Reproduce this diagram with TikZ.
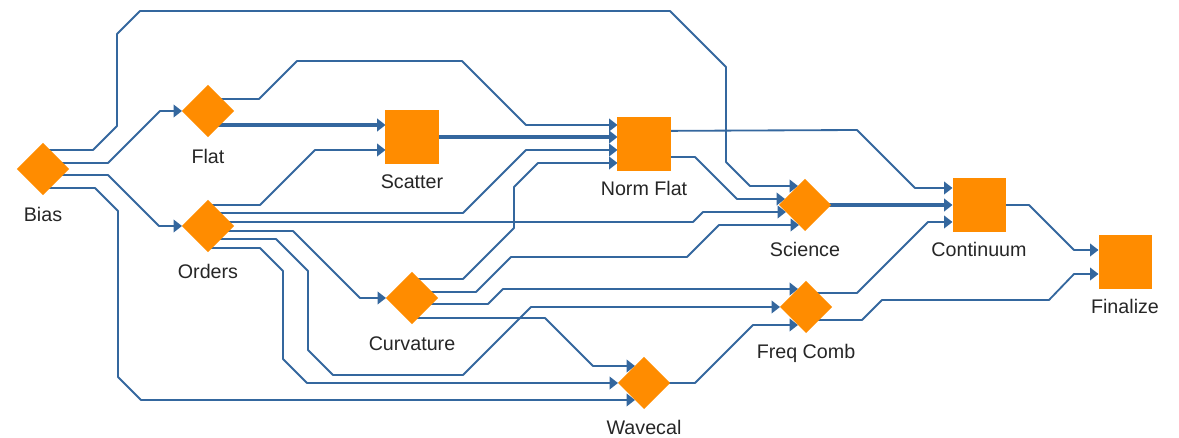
\documentclass[tikz,border=0pt]{standalone}
\usepackage{fontspec}
\setmainfont{Liberation Sans}
\usepackage{xcolor}
\definecolor{flowblue}{RGB}{52,103,158}
\definecolor{steporange}{RGB}{255,140,0}
\usetikzlibrary{shapes.geometric,arrows.meta,backgrounds,calc}
\tikzset{
  stage/.style={diamond, fill=steporange, minimum width=1.3cm, minimum height=1.3cm, aspect=1, inner sep=0pt, outer sep=0pt},
  task/.style={rectangle, fill=steporange, minimum size=1.325cm, inner sep=0pt, outer sep=0pt},
  lbl/.style={font=\fontsize{14pt}{16pt}\selectfont, text=black!85, anchor=base, inner sep=0pt},
  flow/.style={draw=flowblue, line width=1.3pt, line join=round, -{Triangle[length=6pt,width=9pt]}},
  mainflow/.style={flow, line width=2.2pt},
}
\begin{document}
\begin{tikzpicture}[x=0.025cm, y=-0.025cm]
        \useasboundingbox (0,0) rectangle (1179,438);                          % Bildrahmen
        \node[stage] (bias) at (43,169) {};                                     % Bias
        \node[stage] (flat) at (208,111) {};                                    % Flat
        \node[stage] (orders) at (208,226) {};                                  % Orders
        \node[task] (scatter) at (412,137) {};                                  % Scatter
        \node[stage] (curvature) at (412,298) {};                               % Curvature
        \node[task] (normflat) at (644,144) {};                                 % Norm Flat
        \node[stage] (wavecal) at (644,383) {};                                 % Wavecal
        \node[stage] (science) at (805,205) {};                                 % Science
        \node[stage] (freqcomb) at (806,307) {};                                % Freq Comb
        \node[task] (continuum) at (979,205) {};                                % Continuum
        \node[task] (finalize) at (1125,262) {};                                % Finalize
        \node[lbl] (bias-t) at ([shift={(0,53)}]bias.center) {Bias};            % Beschriftungen
        \node[lbl] (flat-t) at ([shift={(0,53)}]flat.center) {Flat};
        \node[lbl] (orders-t) at ([shift={(0,53)}]orders.center) {Orders};
        \node[lbl] (scatter-t) at ([shift={(0,52)}]scatter.center) {Scatter};
        \node[lbl] (curvature-t) at ([shift={(0,53)}]curvature.center) {Curvature};
        \node[lbl] (normflat-t) at ([shift={(0,52)}]normflat.center) {Norm Flat};
        \node[lbl] (wavecal-t) at ([shift={(0,52)}]wavecal.center) {Wavecal};
        \node[lbl] (science-t) at ([shift={(0,52)}]science.center) {Science};
        \node[lbl] (freqcomb-t) at ([shift={(0,52)}]freqcomb.center) {Freq Comb};
        \node[lbl] (continuum-t) at ([shift={(0,52)}]continuum.center) {Continuum};
        \node[lbl] (finalize-t) at ([shift={(0,52)}]finalize.center) {Finalize};
        \begin{scope}[on background layer]
            \draw[flow] ([shift={(0,-19)}]bias.center) -- (93,150) -- (117,126) -- (117,34) -- (140,11) -- (670,11) -- (726,67) -- (726,162) -- (750,186) -- ([shift={(19,-19)}]science.west); % Bias -> Science
            \draw[flow] ([shift={(0,-6)}]bias.center) -- (108,163) -- (160,111) -- (flat.west);                           % Bias -> Flat
            \draw[flow] ([shift={(0,6)}]bias.center) -- (108,175) -- (159,226) -- (orders.west);                          % Bias -> Orders
            \draw[flow] ([shift={(0,19)}]bias.center) -- (95,188) -- (118,211) -- (118,377) -- (141,400) -- ([shift={(17,17)}]wavecal.west); % Bias -> Wavecal
            \draw[flow] ([shift={(0,-12)}]flat.center) -- (259,99) -- (297,61) -- (462,61) -- (526,125) -- ([shift={(0,-19)}]normflat.west); % Flat -> Norm Flat
            \draw[mainflow] ([shift={(0,14)}]flat.center) -- ([shift={(0,-12)}]scatter.west);                             % Flat -> Scatter
            \draw[flow] ([shift={(0,-21)}]orders.center) -- (260,205) -- (315,150) -- ([shift={(0,13)}]scatter.west);     % Orders -> Scatter
            \draw[flow] ([shift={(0,-13)}]orders.center) -- (463,213) -- (526,150) -- ([shift={(0,6)}]normflat.west);     % Orders -> Norm Flat
            \draw[flow] ([shift={(0,-4)}]orders.center) -- (693,222) -- (703,212) -- ([shift={(7,7)}]science.west);       % Orders -> Science
            \draw[flow] ([shift={(0,5)}]orders.center) -- (293,231) -- (360,298) -- (curvature.west);                     % Orders -> Curvature
            \draw[flow] ([shift={(0,13)}]orders.center) -- (276,239) -- (308,271) -- (308,350) -- (333,375) -- (463,375) -- (531,307) -- (freqcomb.west); % Orders -> Freq Comb
            \draw[flow] ([shift={(0,22)}]orders.center) -- (260,248) -- (283,271) -- (283,359) -- (307,383) -- (wavecal.west); % Orders -> Wavecal
            \draw[flow] ([shift={(0,-19)}]curvature.center) -- (463,279) -- (514,228) -- (514,187) -- (538,163) -- ([shift={(0,19)}]normflat.west); % Curvature -> Norm Flat
            \draw[flow] ([shift={(0,-6)}]curvature.center) -- (476,292) -- (511,257) -- (687,257) -- (719,225) -- ([shift={(20,20)}]science.west); % Curvature -> Science
            \draw[flow] ([shift={(0,6)}]curvature.center) -- (488,304) -- (503,289) -- ([shift={(18,-18)}]freqcomb.west); % Curvature -> Freq Comb
            \draw[flow] ([shift={(0,20)}]curvature.center) -- (545,318) -- (593,366) -- ([shift={(17,-17)}]wavecal.west); % Curvature -> Wavecal
            \draw[mainflow] (scatter.center) -- ([shift={(0,-7)}]normflat.west);                                          % Scatter -> Norm Flat
            \draw[flow] ([shift={(0,-13)}]normflat.center) -- (857,130) -- (915,188) -- ([shift={(0,-17)}]continuum.west); % Norm Flat -> Continuum
            \draw[flow] ([shift={(0,13)}]normflat.center) -- (695,157) -- (737,199) -- ([shift={(6,-6)}]science.west);    % Norm Flat -> Science
            \draw[flow] (wavecal.center) -- (695,383) -- (753,325) -- ([shift={(18,18)}]freqcomb.west);                   % Wavecal -> Freq Comb
            \draw[mainflow] (science.center) -- (continuum.west);                                                         % Science -> Continuum
            \draw[flow] ([shift={(0,-14)}]freqcomb.center) -- (857,293) -- (928,222) -- ([shift={(0,17)}]continuum.west); % Freq Comb -> Continuum
            \draw[flow] ([shift={(0,13)}]freqcomb.center) -- (862,320) -- (882,300) -- (1049,300) -- (1074,274) -- ([shift={(0,12)}]finalize.west); % Freq Comb -> Finalize
            \draw[flow] (continuum.center) -- (1029,205) -- (1074,250) -- ([shift={(0,-12)}]finalize.west);               % Continuum -> Finalize
        \end{scope}
    \end{tikzpicture}
\end{document}
